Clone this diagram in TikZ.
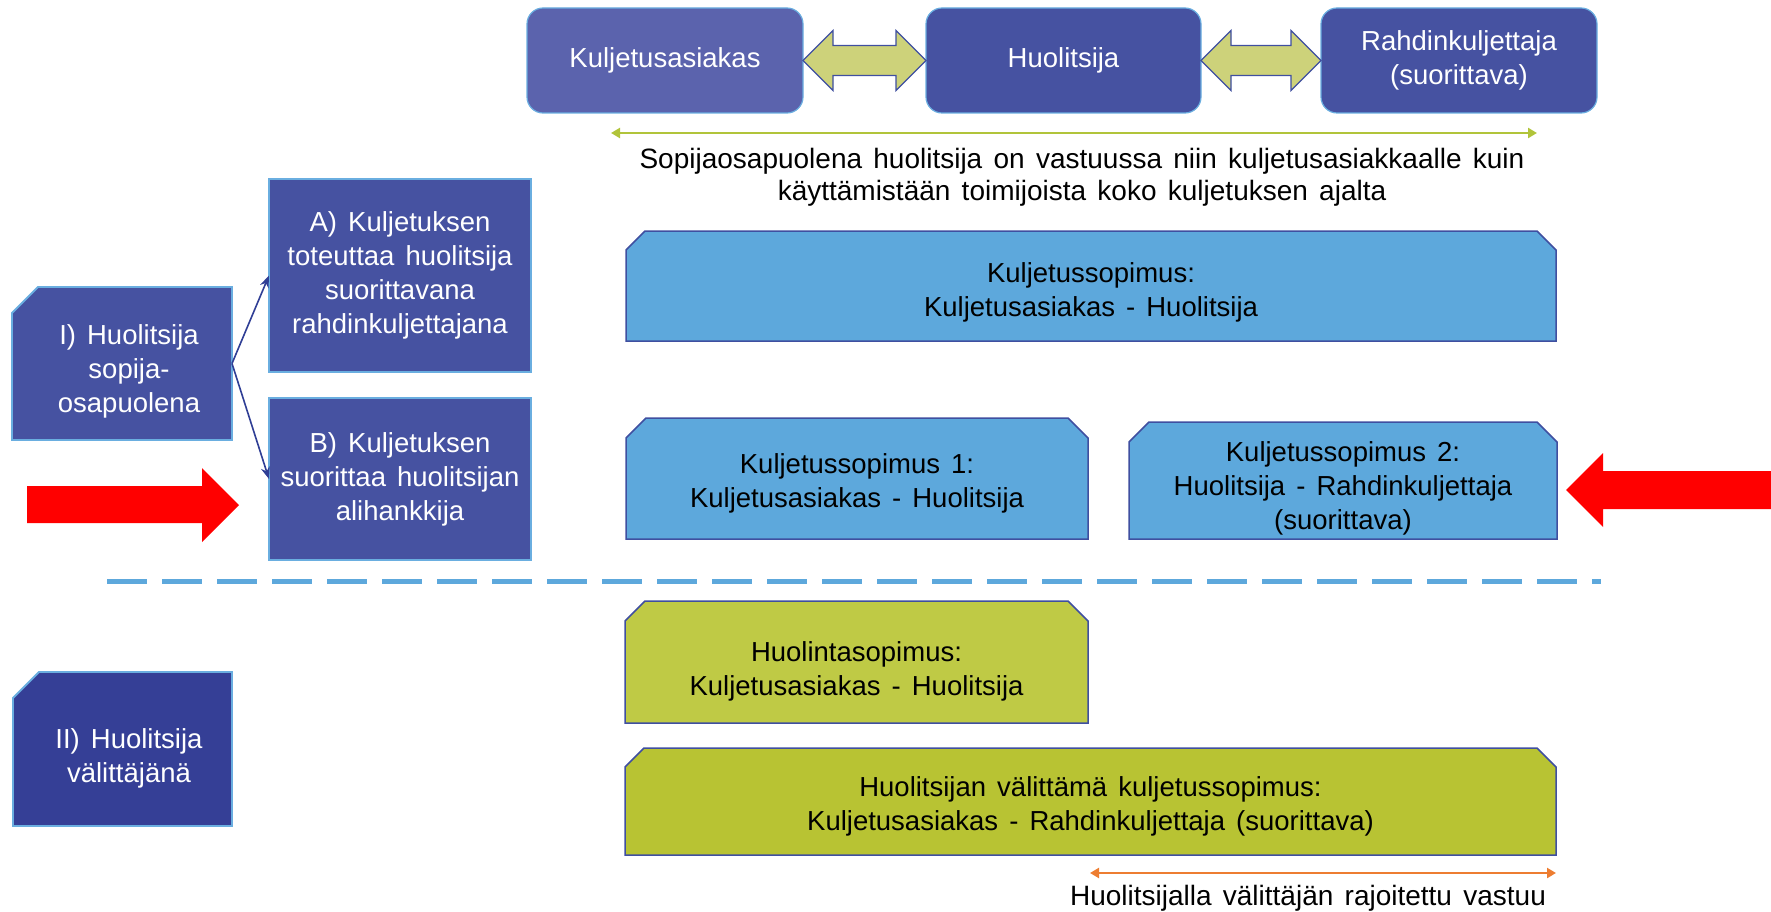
\documentclass[tikz,border=0pt]{standalone}
\usepackage{fontspec}
\setmainfont[WordSpace=1.45]{Liberation Sans}
\usetikzlibrary{arrows.meta,calc}
\definecolor{kacol}{HTML}{5B63AD}
\definecolor{hcol}{HTML}{4652A1}
\definecolor{iicol}{HTML}{353F96}
\definecolor{lblue}{HTML}{6AAEE0}
\definecolor{cblue}{HTML}{5DA8DC}
\definecolor{cborder}{HTML}{3F4FA0}
\definecolor{grone}{HTML}{BFCA45}
\definecolor{grtwo}{HTML}{B8C333}
\definecolor{arrfill}{HTML}{CDD27A}
\definecolor{gline}{HTML}{B1C43A}
\definecolor{orng}{HTML}{ED7D31}
\definecolor{conncol}{HTML}{2F3E95}
\newcommand\snipboth[3]{\path[#3] ([yshift=-#2]#1.north west) -- ([xshift=#2]#1.north west) -- ([xshift=-#2]#1.north east) -- ([yshift=-#2]#1.north east) -- (#1.south east) -- (#1.south west) -- cycle;}
\newcommand\snipleft[3]{\path[#3] ([yshift=-#2]#1.north west) -- ([xshift=#2]#1.north west) -- (#1.north east) -- (#1.south east) -- (#1.south west) -- cycle;}
\newcommand\dblarrow[2]{\path[dbl] (#1.east) -- ($(#1.east)+(30,-30)$) -- ($(#1.east)+(30,-15)$) -- ($(#2.west)+(-30,-15)$) -- ($(#2.west)+(-30,-30)$) -- (#2.west) -- ($(#2.west)+(-30,30)$) -- ($(#2.west)+(-30,15)$) -- ($(#1.east)+(30,15)$) -- ($(#1.east)+(30,30)$) -- cycle;}
\begin{document}
\begin{tikzpicture}[x=1pt,y=-1pt,
  every node/.style={inner sep=0pt, outer sep=0pt, align=center, font=\fontsize{27.5}{34}\selectfont},
  freetxt/.style={font=\fontsize{28}{32}\selectfont},
  sz/.style n args={2}{minimum width=#1pt, minimum height=#2pt},
  topbox/.style={rounded corners=16pt, draw=lblue, line width=1.2pt, text=white},
  purple/.style={fill=hcol, draw=lblue, line width=1.8pt, text=white},
  wtxt/.style={text=white},
  bbox/.style={fill=cblue, draw=cborder, line width=1.5pt},
  gonebox/.style={fill=grone, draw=cborder, line width=1.5pt},
  gtwobox/.style={fill=grtwo, draw=cborder, line width=1.5pt},
  dbl/.style={fill=arrfill, draw=cborder, line width=1.2pt, line join=miter},
  conn/.style={draw=conncol, line width=1.6pt, -{Stealth[length=12pt,width=9pt]}},
  spanline/.style={line width=2.5pt, {Triangle[length=9pt,width=10pt]}-{Triangle[length=9pt,width=10pt]}}]
\useasboundingbox (0,0) rectangle (1771,912);

% top row
\node[topbox, fill=kacol, sz={276}{105}] (KA) at (665,60.5) {Kuljetusasiakas};
\node[topbox, fill=hcol, sz={275}{105}] (H) at (1063.5,60.5) {Huolitsija};
\node[topbox, fill=hcol, sz={276}{105}] (R) at (1459,60.5) {Rahdinkuljettaja\\(suorittava)};
\dblarrow{KA}{H}
\dblarrow{H}{R}

\coordinate (g1) at (611,133);
\coordinate (g2) at (1537,133);
\draw[gline, spanline] (g1) -- (g2);
\node[freetxt] (resp) at (1082,177) {Sopijaosapuolena huolitsija on vastuussa niin kuljetusasiakkaalle kuin\\käyttämistään toimijoista koko kuljetuksen ajalta};

% left column
\node[purple, sz={262}{193}] (A) at (400,275.5) {A) Kuljetuksen\\toteuttaa huolitsija\\suorittavana\\rahdinkuljettajana};
\node[purple, sz={262}{162}] (B) at (400,479) {B) Kuljetuksen\\suorittaa huolitsijan\\alihankkija};

\node[sz={220}{153}] (I) at (122,363.5) {};
\snipleft{I}{26pt}{purple}
\node[wtxt] (Itxt) at (129,371) {I) Huolitsija\\sopija-\\osapuolena};

\node[sz={219}{154}] (II) at (122.5,749) {};
\snipleft{II}{26pt}{purple, fill=iicol}
\node[wtxt] (IItxt) at (129,758) {II) Huolitsija\\välittäjänä};

\draw[conn] (I.east) -- (A.west);
\draw[conn] (I.east) -- (B.west);

% red arrows
\fill[red] (27,486) -- (202,486) -- (202,468) -- (239,505) -- (202,542) -- (202,523) -- (27,523) -- cycle;
\fill[red] (1771,471) -- (1603,471) -- (1603,453) -- (1566,490) -- (1603,527) -- (1603,509) -- (1771,509) -- cycle;

% contract boxes
\node[sz={930}{110}] (K) at (1091,286) {};
\snipboth{K}{19pt}{bbox}
\node (Ktxt) at (1091,292) {Kuljetussopimus:\\Kuljetusasiakas - Huolitsija};

\node[sz={462}{121}] (K1) at (857,478.5) {};
\snipboth{K1}{20pt}{bbox}
\node (K1txt) at (857,483) {Kuljetussopimus 1:\\Kuljetusasiakas - Huolitsija};

\node[sz={428}{117}] (K2) at (1343,480.5) {};
\snipboth{K2}{20pt}{bbox}
\node (K2txt) at (1343,488) {Kuljetussopimus 2:\\Huolitsija - Rahdinkuljettaja\\(suorittava)};

% dashed separator
\coordinate (d1) at (107,581);
\coordinate (d2) at (1601,581);
\draw[cblue, line width=5pt, dash pattern=on 40pt off 15pt] (d1) -- (d2);

% green boxes
\node[sz={463}{122}] (HS) at (856.5,662) {};
\snipboth{HS}{20pt}{gonebox}
\node (HStxt) at (856.5,671.5) {Huolintasopimus:\\Kuljetusasiakas - Huolitsija};

\node[sz={931}{107}] (HV) at (1090.5,801.5) {};
\snipboth{HV}{19pt}{gtwobox}
\node (HVtxt) at (1090.5,806.5) {Huolitsijan välittämä kuljetussopimus:\\Kuljetusasiakas - Rahdinkuljettaja (suorittava)};

\coordinate (o1) at (1090,873);
\coordinate (o2) at (1556,873);
\draw[orng, spanline] (o1) -- (o2);
\node[freetxt] (lim) at (1308,898) {Huolitsijalla välittäjän rajoitettu vastuu};
\end{tikzpicture}
\end{document}
